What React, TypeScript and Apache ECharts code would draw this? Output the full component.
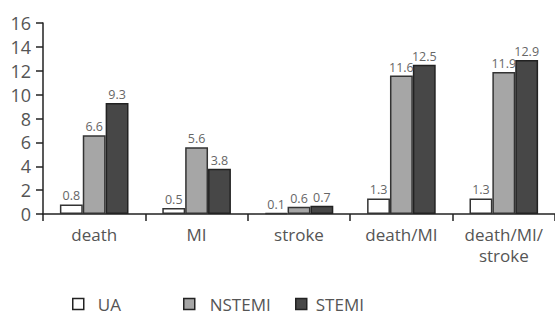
import React, { useEffect, useRef } from "react";
import * as echarts from "echarts";

const categories = ["death", "MI", "stroke", "death/MI", "death/MI/\nstroke"];
const uaValues = [0.8, 0.5, 0.1, 1.3, 1.3];
const nstemiValues = [6.6, 5.6, 0.6, 11.6, 11.9];
const stemiValues = [9.3, 3.8, 0.7, 12.5, 12.9];
const seriesNames = ["UA", "NSTEMI", "STEMI"];

const FONT = "'Open Sans', 'DejaVu Sans', sans-serif";

export default function App() {
  const ref = useRef<HTMLDivElement>(null);
  useEffect(() => {
    if (!ref.current) return;
    const chart = echarts.init(ref.current, null, { renderer: "svg" });
    const label = {
      show: true,
      position: "top",
      distance: 2,
      fontSize: 12.5,
      color: "#666",
      textBorderWidth: 0,
      fontFamily: FONT,
    };
    const mk = (name: string, data: number[], color: string, border: string) => ({
      name,
      type: "bar",
      data,
      barCategoryGap: "33%",
      barGap: "0%",
      itemStyle: { color, borderColor: border, borderWidth: 1.5 },
      label,
    });
    const legendText = { fontSize: 17, lineHeight: 18, color: "#555", fontFamily: FONT };
    const legendBase = {
      top: 295,
      padding: 0,
      icon: "rect",
      itemWidth: 11,
      itemHeight: 11,
      itemStyle: { borderColor: "#222", borderWidth: 1.5 },
    };
    chart.setOption({
      animation: false,
      grid: { left: 43, top: 23, bottom: 100, width: 524 },
      legend: [
        { ...legendBase, left: 72, data: [seriesNames[0]], textStyle: { ...legendText, padding: [0, 0, 0, 9] } },
        { ...legendBase, left: 183, data: [seriesNames[1]], textStyle: { ...legendText, padding: [0, 0, 0, 10] } },
        { ...legendBase, left: 295, data: [seriesNames[2]], textStyle: { ...legendText, padding: [0, 0, 0, 4] } },
      ],
      xAxis: {
        type: "category",
        data: categories,
        axisLine: { lineStyle: { color: "#222", width: 1.5 } },
        axisTick: { show: true, length: 7, lineStyle: { color: "#222", width: 1.5 } },
        axisLabel: { fontSize: 17, color: "#555", fontFamily: FONT, margin: 10, lineHeight: 21, interval: 0 },
      },
      yAxis: {
        type: "value",
        min: 0,
        max: 16,
        interval: 2,
        splitLine: { show: false },
        axisLine: { show: true, lineStyle: { color: "#222", width: 1.5 } },
        axisTick: { show: true, length: 7, lineStyle: { color: "#222", width: 1.5 } },
        axisLabel: { fontSize: 18, color: "#555", fontFamily: FONT, margin: 12 },
      },
      series: [
        mk(seriesNames[0], uaValues, "#ffffff", "#333"),
        mk(seriesNames[1], nstemiValues, "#a6a6a6", "#333"),
        mk(seriesNames[2], stemiValues, "#474747", "#222"),
      ],
    });
    return () => chart.dispose();
  }, []);
  return <div ref={ref} style={{ width: 555, height: 314, position: "absolute", left: 0, top: 0 }} />;
}
